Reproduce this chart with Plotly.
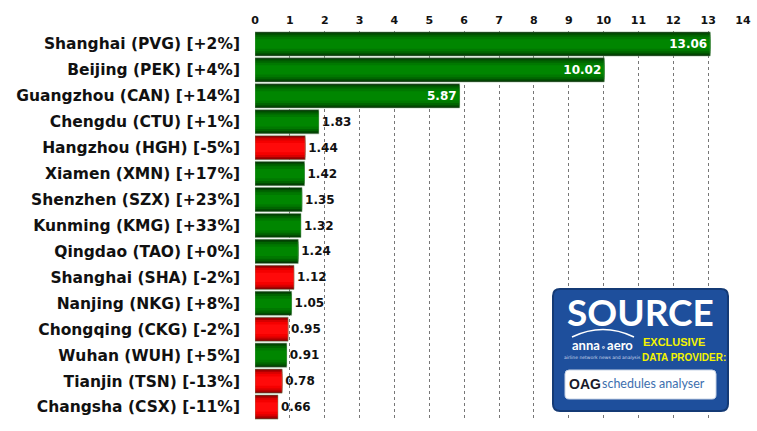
import plotly.graph_objects as go

airports = ["Shanghai (PVG)", "Beijing (PEK)", "Guangzhou (CAN)", "Chengdu (CTU)",
            "Hangzhou (HGH)", "Xiamen (XMN)", "Shenzhen (SZX)", "Kunming (KMG)",
            "Qingdao (TAO)", "Shanghai (SHA)", "Nanjing (NKG)", "Chongqing (CKG)",
            "Wuhan (WUH)", "Tianjin (TSN)", "Changsha (CSX)"]
growth_pct = [2, 4, 14, 1, -5, 17, 23, 33, 0, -2, 8, -2, 5, -13, -11]
seats_m = [13.06, 10.02, 5.87, 1.83, 1.44, 1.42, 1.35, 1.32, 1.24, 1.12,
           1.05, 0.95, 0.91, 0.78, 0.66]
x_ticks = list(range(0, 15))

labels = [f"{a} [{'+' if g >= 0 else ''}{g}%]" for a, g in zip(airports, growth_pct)]
neg = [g < 0 for g in growth_pct]

# gradient layers: (width, green, red)
layers = [
    (0.93, "#0a300a", "#7a0000"),
    (0.84, "#004c00", "#a80000"),
    (0.72, "#006400", "#d80000"),
    (0.56, "#007800", "#f50000"),
    (0.36, "#008600", "#ff0a0a"),
]

fig = go.Figure()
for w, gcol, rcol in layers:
    fig.add_trace(go.Bar(
        x=seats_m, y=labels, orientation="h", width=w,
        marker=dict(color=[rcol if n else gcol for n in neg], line=dict(width=0)),
        hoverinfo="skip", showlegend=False,
    ))

big = [v > 5 for v in seats_m]
fig.add_trace(go.Bar(
    x=seats_m, y=labels, orientation="h", width=0.93,
    marker=dict(color="rgba(0,0,0,0)", line=dict(width=1, color="rgba(120,170,120,0.5)")),
    text=[f"{v:.2f}" for v in seats_m],
    textposition=["inside" if b else "outside" for b in big],
    insidetextanchor="end",
    textfont=dict(family="DejaVu Sans", size=12, color=["#ffffff" if b else "#111111" for b in big], weight="bold"),
    cliponaxis=False, constraintext="none",
    showlegend=False, hoverinfo="skip",
))

fig.update_layout(
    width=757, height=431,
    margin=dict(l=255, r=14, t=31, b=11),
    barmode="overlay",
    plot_bgcolor="white", paper_bgcolor="white",
    font=dict(family="DejaVu Sans", color="#111111"),
    xaxis=dict(
        side="top", range=[0, 14], tickvals=x_ticks, ticktext=[str(t) for t in x_ticks],
        showgrid=True, gridcolor="#777777", griddash="dot", gridwidth=1,
        zeroline=False, showline=False, ticks="", automargin=False,
        tickfont=dict(family="DejaVu Sans", size=11, color="#111111", weight="bold"),
        ticklabelstandoff=4,
    ),
    yaxis=dict(
        autorange="reversed", showgrid=False, showline=False, ticks="", automargin=False,
        tickfont=dict(family="DejaVu Sans", size=15.5, color="#111111", weight="bold"),
        ticklabelstandoff=14,
    ),
)

# SOURCE logo (decorative)
def px_x(p):
    return (p - 255) / 488.0

def px_y(p):
    return (420 - p) / 389.0

def rrect(x0, y0, x1, y1, r):
    def P(x, y):
        return f"{px_x(x):.5f},{px_y(y):.5f}"
    return (f"M {P(x0 + r, y0)} L {P(x1 - r, y0)} Q {P(x1, y0)} {P(x1, y0 + r)} "
            f"L {P(x1, y1 - r)} Q {P(x1, y1)} {P(x1 - r, y1)} L {P(x0 + r, y1)} "
            f"Q {P(x0, y1)} {P(x0, y1 - r)} L {P(x0, y0 + r)} Q {P(x0, y0)} {P(x0 + r, y0)} Z")

fig.add_shape(type="path", xref="paper", yref="paper", path=rrect(553, 289, 728, 411, 7),
              fillcolor="#1e4f9c", line=dict(color="#143a75", width=2), layer="above")
fig.add_shape(type="path", xref="paper", yref="paper", path=rrect(565, 370, 716, 399, 4),
              fillcolor="#ffffff", line=dict(color="#c8d4e6", width=1), layer="above")

def ann(x, y, text, size, color, family="DejaVu Sans", weight="normal", anchor="center"):
    fig.add_annotation(x=px_x(x), y=px_y(y), xref="paper", yref="paper", text=text,
                       showarrow=False, xanchor=anchor, yanchor="middle",
                       font=dict(size=size, color=color, family=family, weight=weight))

ann(640, 312, "SOURCE", 37, "#ffffff", family="Lato", weight="bold")
ann(602, 345, "anna<span style='font-size:8px'> ◦ </span>aero", 13, "#ffffff", family="Lato", weight="bold")
ann(602, 357, "airline network news and analysis", 4.5, "#c9d6ea")
fig.add_shape(type="path", xref="paper", yref="paper",
              path=f"M {px_x(572):.5f},{px_y(337):.5f} Q {px_x(603):.5f},{px_y(322):.5f} {px_x(634):.5f},{px_y(337):.5f}",
              line=dict(color="#ffffff", width=1.5), layer="above")
ann(641, 342, "EXCLUSIVE", 11, "#f4f400", family="Liberation Sans", weight="bold", anchor="left")
ann(640, 357, "DATA PROVIDER:", 10, "#f4f400", family="Liberation Sans", weight="bold", anchor="left")
ann(567, 384, "OAG", 14, "#1a1a2a", family="Liberation Sans", weight="bold", anchor="left")
ann(600, 383, "schedules analyser", 12.5, "#3d6fae", family="Lato", anchor="left")

fig.write_html("out.html", config={"displayModeBar": False},
               post_script="document.body.style.margin='0';document.body.style.padding='0';")
